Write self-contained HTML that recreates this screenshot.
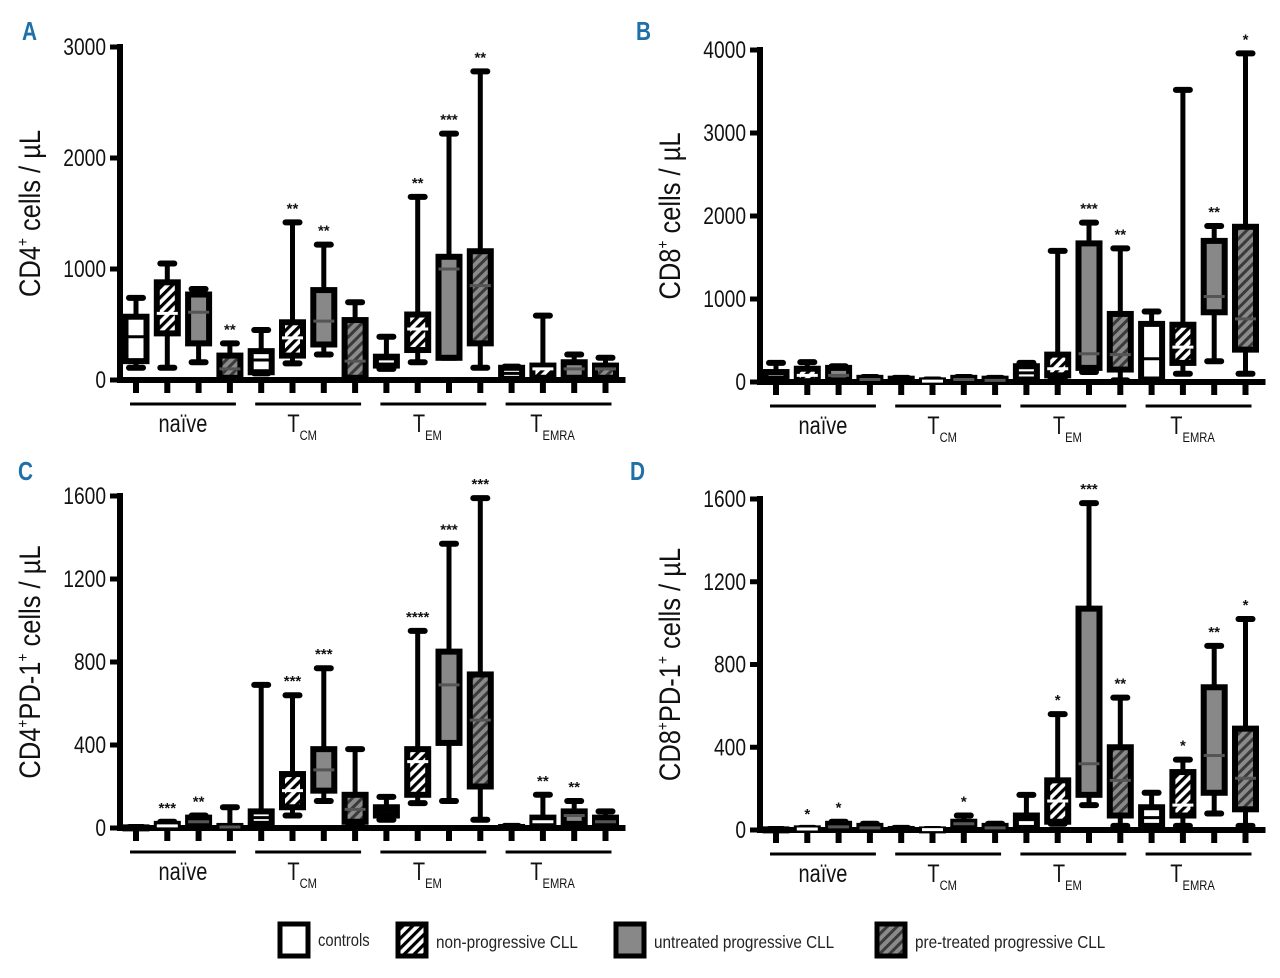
<!DOCTYPE html>
<html><head><meta charset="utf-8">
<style>
html,body{margin:0;padding:0;background:#fff;}
svg{display:block;font-family:"Liberation Sans Narrow","Liberation Sans",sans-serif;}
</style></head>
<body>
<svg id="fig" width="1280" height="978" viewBox="0 0 1280 978" xmlns="http://www.w3.org/2000/svg">
<defs>
<pattern id="hatchW" patternUnits="userSpaceOnUse" width="7" height="7" patternTransform="rotate(45)">
<rect width="7" height="7" fill="#fff"/><rect width="3.2" height="7" fill="#000"/></pattern>
<pattern id="hatchG" patternUnits="userSpaceOnUse" width="7" height="7" patternTransform="rotate(45)">
<rect width="7" height="7" fill="#8a8a8a"/><rect width="3" height="7" fill="#3a3a3a"/></pattern>
</defs>
<g id="legend">
<g><rect x="280" y="924" width="28" height="32" fill="#fff" stroke="#000" stroke-width="5"/><text transform="translate(318,946) scale(0.82,1)" font-size="18" fill="#222">controls</text></g>
<g><rect x="398" y="924" width="28" height="32" fill="url(#hatchW)" stroke="#000" stroke-width="5"/><text transform="translate(436,948) scale(0.85,1)" font-size="18" fill="#222">non-progressive CLL</text></g>
<g><rect x="616" y="924" width="28" height="32" fill="#888" stroke="#000" stroke-width="5"/><text transform="translate(654,948) scale(0.85,1)" font-size="18" fill="#222">untreated progressive CLL</text></g>
<g><rect x="877" y="924" width="28" height="32" fill="url(#hatchG)" stroke="#000" stroke-width="5"/><text transform="translate(915,948) scale(0.85,1)" font-size="18" fill="#222">pre-treated progressive CLL</text></g>
</g>
</svg>
<script>
// Shared categories
const groups = ["naïve","CM","EM","EMRA"];
const seriesNames = ["controls","non-progressive","untreated","pre-treated"];
// Each box: [min, q1, median, q3, max]
const dataA = [[110,170,390,570,740],[110,420,600,880,1050],[160,330,610,770,820],[10,20,100,220,330],
 [60,70,180,260,450],[150,220,380,520,1420],[230,320,530,810,1220],[10,20,170,540,700],
 [100,130,190,210,390],[160,270,460,590,1650],[200,200,1000,1110,2220],[110,330,850,1160,2780],
 [0,10,60,110,120],[0,20,100,130,580],[0,20,100,160,230],[0,20,100,130,200]];
const starsA = ["","","","**","","**","**","","","**","***","**","","","",""];
const dataB = [[0,10,60,120,230],[0,10,80,160,240],[0,20,80,170,190],[0,10,30,50,60],
 [0,5,20,40,50],[0,5,10,20,30],[0,10,30,50,60],[0,5,20,40,50],
 [10,30,110,190,230],[40,80,160,330,1580],[120,170,340,1670,1920],[20,150,330,820,1610],
 [10,30,280,700,850],[100,230,420,690,3520],[250,840,1030,1700,1880],[100,390,760,1870,3960]];
const starsB = ["","","","","","","","","","","***","**","","","**","*"];
const dataC = [[0,1,2,3,5],[0,5,10,20,30],[0,10,30,50,60],[0,0,5,10,100],
 [10,20,50,80,690],[60,100,180,260,640],[130,180,280,380,770],[10,30,90,160,380],
 [40,60,80,100,150],[120,160,320,380,950],[130,410,690,850,1370],[40,200,520,740,1590],
 [0,1,3,5,10],[0,10,30,50,160],[0,20,60,80,130],[0,10,30,50,80]];
const starsC = ["","***","**","","","***","***","","","****","***","***","","**","**",""];
const dataD = [[0,1,2,3,5],[0,2,5,8,10],[0,5,15,30,40],[0,5,10,20,30],
 [0,1,3,5,10],[0,1,2,3,5],[0,10,30,40,70],[0,5,10,20,30],
 [0,10,50,70,170],[30,40,140,240,560],[120,170,320,1070,1580],[20,70,240,400,640],
 [0,20,60,110,180],[20,70,120,280,340],[80,180,360,690,890],[20,100,250,490,1020]];
const starsD = ["","*","*","","","","*","","","*","***","**","","*","**","*"];
const ticksAB = [[0,1000,2000,3000],[0,1000,2000,3000,4000]];
const ticksCD = [0,400,800,1200,1600];

const NS="http://www.w3.org/2000/svg";
const svg=document.getElementById('fig');
function mk(tag,attrs,parent){const e=document.createElementNS(NS,tag);for(const k in attrs)e.setAttribute(k,attrs[k]);(parent||svg).appendChild(e);return e;}
const fills=["#fff","url(#hatchW)","#888","url(#hatchG)"];
const SX=0.8;

function panel(cfg){
  const g=mk('g',{});
  
  
  const y=v=>cfg.y0-(v/cfg.ymax)*(cfg.y0-cfg.yTop);
  const x=i=>cfg.x0+i*31.3;
  const L=mk('text',{transform:`translate(${cfg.lx},${cfg.ly}) scale(0.8,1)`,'font-size':26,'font-weight':'bold',fill:'#1f6fa8'},g);L.textContent=cfg.letter;
  
  
  const t=mk('text',{x:0,y:0,'font-size':30,fill:'#111','text-anchor':'middle',transform:`translate(${cfg.ax-80},${(cfg.yTop+cfg.y0)/2}) rotate(-90) scale(0.85,1)`},g);
  t.innerHTML=cfg.title;
  
  
  const ya=mk('line',{x1:cfg.ax,y1:cfg.yTop-3,x2:cfg.ax,y2:cfg.y0+3,stroke:'#000','stroke-width':6},g);
  
  
  const xa=mk('line',{x1:cfg.ax,y1:cfg.y0,x2:x(15)+20,y2:cfg.y0,stroke:'#000','stroke-width':6},g);
  
  
  cfg.ticks.forEach(v=>{
    mk('line',{x1:cfg.ax-10,y1:y(v),x2:cfg.ax,y2:y(v),stroke:'#000','stroke-width':5},g);
    const tl=mk('text',{transform:`translate(${cfg.ax-14},${y(v)+8}) scale(${SX},1)`,'font-size':24,'text-anchor':'end',fill:'#111'},g);
    tl.textContent=v;
    
    
  });
  for(let i=0;i<16;i++) mk('line',{x1:x(i),y1:cfg.y0,x2:x(i),y2:cfg.y0+13,stroke:'#000','stroke-width':6},g);
  groups.forEach((gn,k)=>{
    const a=x(k*4)-6,b=x(k*4+3)+6;
    mk('line',{x1:a,y1:cfg.y0+24,x2:b,y2:cfg.y0+24,stroke:'#000','stroke-width':3},g);
    const lbl=mk('text',{transform:`translate(${(a+b)/2-(k?6:0)},${cfg.y0+52}) scale(${SX},1)`,'font-size':25,'text-anchor':'middle',fill:'#111'},g);
    lbl.innerHTML = k==0? gn : `T<tspan font-size="14" dy="8">${gn}</tspan>`;
    
    
  });
  cfg.data.forEach((d,i)=>{
    const s=i%4, cx=x(i), w=21;
    const bg=mk('g',{},g);
    
    
    mk('line',{x1:cx,y1:y(d[0]),x2:cx,y2:y(d[4]),stroke:'#000','stroke-width':5},bg);
    [d[0],d[4]].forEach(v=>mk('line',{x1:cx-7,y1:y(v),x2:cx+7,y2:y(v),stroke:'#000','stroke-width':6,'stroke-linecap':'round'},bg));
    const top=y(d[3]),bot=y(d[1]);
    mk('rect',{x:cx-w/2,y:top,width:w,height:Math.max(bot-top,1),fill:fills[s],stroke:'#000','stroke-width':6},bg);
    mk('line',{x1:cx-w/2,y1:y(d[2]),x2:cx+w/2,y2:y(d[2]),stroke:s==0?'#000':(s==1?'#fff':'#555'),'stroke-width':3},bg);
    if(cfg.stars[i]){
      const st=mk('text',{x:cx,y:y(d[4])-9,'font-size':15,'font-weight':'bold','text-anchor':'middle',fill:'#111'},bg);
      st.textContent=cfg.stars[i];
      
      
    }
  });
}
panel({letter:'A',lx:22,ly:40,ax:120,x0:136,y0:380,yTop:47,ymax:3000,ticks:ticksAB[0],data:dataA,stars:starsA,title:'CD4<tspan font-size="16" dy="-12">+</tspan><tspan dy="12"> cells / µL</tspan>'});
panel({letter:'B',lx:636,ly:40,ax:760,x0:776,y0:382,yTop:50,ymax:4000,ticks:ticksAB[1],data:dataB,stars:starsB,title:'CD8<tspan font-size="16" dy="-12">+</tspan><tspan dy="12"> cells / µL</tspan>'});
panel({letter:'C',lx:18,ly:480,ax:120,x0:136,y0:828,yTop:496,ymax:1600,ticks:ticksCD,data:dataC,stars:starsC,title:'CD4<tspan font-size="16" dy="-12">+</tspan><tspan dy="12">PD-1</tspan><tspan font-size="16" dy="-12">+</tspan><tspan dy="12"> cells / µL</tspan>'});
panel({letter:'D',lx:630,ly:480,ax:760,x0:776,y0:830,yTop:499,ymax:1600,ticks:ticksCD,data:dataD,stars:starsD,title:'CD8<tspan font-size="16" dy="-12">+</tspan><tspan dy="12">PD-1</tspan><tspan font-size="16" dy="-12">+</tspan><tspan dy="12"> cells / µL</tspan>'});
</script>
</body></html>
